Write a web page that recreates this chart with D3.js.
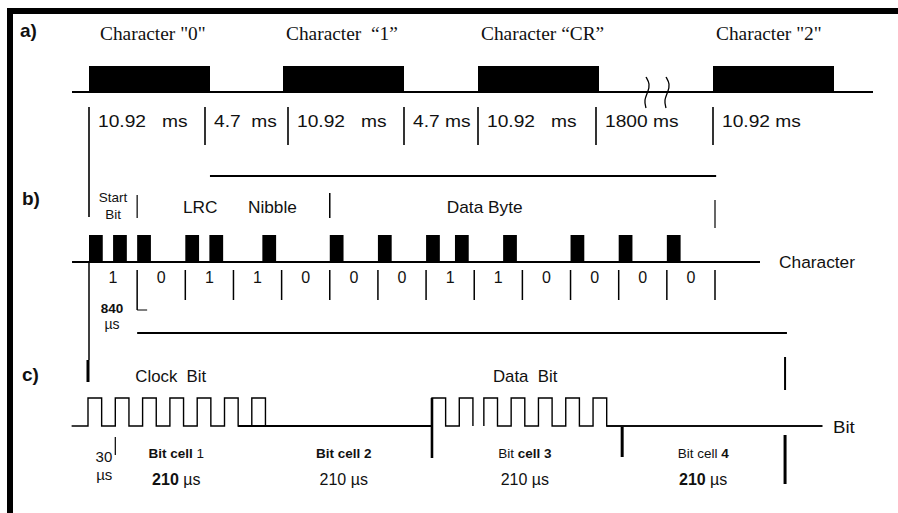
<!DOCTYPE html>
<html>
<head>
<meta charset="utf-8">
<script src="https://cdn.jsdelivr.net/npm/d3@7"></script>
<style>
  html, body { margin: 0; padding: 0; background: #fff; }
  svg { display: block; }
  text { font-family: "Liberation Sans", Arial, sans-serif; fill: #111; white-space: pre; }
</style>
</head>
<body>
<div id="chart"></div>
<script>
// ---- a) characters on the line (layout units, drawing is not to scale)
const charNames = ['Character "0"', 'Character  \u201c1\u201d', 'Character \u201cCR\u201d', 'Character "2"'];
const charStart = [0, 194, 389, 624];
const charLen = 121;
const gapTicks = [0, 116, 199, 315, 389, 507, 624];
const gapLabels = ['10.92   ms', '4.7  ms', '10.92   ms', '4.7 ms', '10.92   ms', '1800 ms', '10.92 ms'];
const breakMarks = [558, 578];

// ---- b) one character, 13 bits of 840 us
const bitUs = 840;
const bits = [1, 0, 1, 1, 0, 0, 0, 1, 1, 0, 0, 0, 0];
const pulsesB = [0, 0.5, 1, 2, 2.5, 3.6, 5, 6, 7, 7.6, 8.6, 10, 11, 12]; // in bit cells
const pulseBUs = 240;
const groupEdges = [1, 5, 13];

// ---- c) bit cells, 30 us clock pulses (us)
const clockGroup1 = [0, 30, 60, 90, 120, 150, 180];
const clockGroup2 = [378, 408];
const clockGroup3 = [435, 465, 495, 525, 555];
const pulseCUs = 15;
const cellSeps = [378, 587, 766];
const cellCenters = [97, 281, 480, 676];

const W = 898, H = 513;
const svg = d3.select('#chart').append('svg').attr('width', W).attr('height', H);

// frame (top and left bars)
svg.append('rect').attr('x', 7).attr('y', 8).attr('width', W - 7).attr('height', 6).attr('fill', '#000');
svg.append('rect').attr('x', 7).attr('y', 8).attr('width', 6).attr('height', H - 8).attr('fill', '#000');

function label(x, y, str, o = {}) {
  return svg.append('text')
    .attr('transform', `translate(${x},${y}) scale(${o.sx || 1},1)`)
    .attr('text-anchor', o.anchor || 'start')
    .style('font-size', (o.size || 15) + 'px')
    .style('font-weight', o.bold ? 'bold' : null)
    .style('font-family', o.serif ? '"Liberation Serif", "Times New Roman", serif' : null)
    .text(str);
}
function vline(x, y1, y2, w) {
  svg.append('line').attr('x1', x).attr('x2', x).attr('y1', y1).attr('y2', y2)
    .attr('stroke', '#000').attr('stroke-width', w || 1.5);
}
function hline(x1, x2, y, w) {
  svg.append('line').attr('x1', x1).attr('x2', x2).attr('y1', y).attr('y2', y)
    .attr('stroke', '#000').attr('stroke-width', w || 2);
}

// panel labels
label(20, 37, 'a)', { size: 19, bold: true });
label(22, 205, 'b)', { size: 19, bold: true });
label(22, 381, 'c)', { size: 19, bold: true });

// ================= a)
const xA = d3.scaleLinear().domain([0, 745]).range([89, 834]);
const yBaseA = 92, yTopA = 66;

hline(xA(-17), xA(784), yBaseA, 2);
svg.selectAll('.charPulse').data(charStart).enter().append('rect')
  .attr('class', 'charPulse')
  .attr('x', d => xA(d))
  .attr('y', yTopA)
  .attr('width', d => xA(d + charLen) - xA(d))
  .attr('height', yBaseA - yTopA)
  .attr('fill', '#000');

charNames.forEach((n, i) => label(xA(charStart[i]) + (i === 0 ? 11 : 3), 40, n, { size: 19, serif: true, sx: 1.02 }));

gapTicks.forEach((t, i) => {
  vline(xA(t), 107, i === 0 ? 217 : 145, 1.6);
  label(xA(t) + 9, 127, gapLabels[i], { size: 16, sx: 1.2 });
});

const squiggle = d3.line().curve(d3.curveBasis);
breakMarks.forEach(b => {
  const x = xA(b);
  svg.append('path')
    .attr('d', squiggle([[x - 1, 77], [x + 3, 84], [x + 1, 92], [x - 3, 100], [x - 1, 108]]))
    .attr('fill', 'none').attr('stroke', '#000').attr('stroke-width', 1.3);
});

// ================= b)
const xB = d3.scaleLinear().domain([0, bits.length * bitUs]).range([89, 715]);
const yBaseB = 262, yTopB = 235;

hline(xB(2110), xB(10940), 176, 2);
hline(xB(-296), xB(11705), yBaseB, 2);
svg.selectAll('.bitPulse').data(pulsesB).enter().append('rect')
  .attr('class', 'bitPulse')
  .attr('x', d => xB(d * bitUs))
  .attr('y', yTopB)
  .attr('width', xB(pulseBUs) - xB(0))
  .attr('height', yBaseB - yTopB)
  .attr('fill', '#000');

label(xB(bitUs / 2), 202, 'Start', { size: 13.5, anchor: 'middle' });
label(xB(bitUs / 2), 219, 'Bit', { size: 13.5, anchor: 'middle' });
label(xB(1.95 * bitUs), 213, 'LRC', { size: 16, sx: 1.08 });
label(xB(3.3 * bitUs), 213, 'Nibble', { size: 16, sx: 1.08 });
label(xB(7.43 * bitUs), 213, 'Data Byte', { size: 16, sx: 1.08 });
label(779, 268, 'Character', { size: 16.5, sx: 1.05 });

vline(xB(groupEdges[0] * bitUs), 195, 218, 1.2);
vline(xB(groupEdges[1] * bitUs), 193, 218, 1.5);
vline(xB(groupEdges[2] * bitUs), 200, 228, 1.2);

bits.forEach((b, i) => {
  label(xB((i + 0.5) * bitUs), 283, String(b), { size: 16, anchor: 'middle' });
  const xs = xB((i + 1) * bitUs);
  vline(xs, 270, i === 0 ? 310 : 300, 1.5);
  if (i === 0) hline(xs, xs + 10, 310, 1);
});

label(xB(bitUs / 2) - 1, 313, '840', { size: 13.5, bold: true, anchor: 'middle' });
label(xB(bitUs / 2) - 1, 329, '\u00b5s', { size: 14, anchor: 'middle' });
hline(xB(bitUs), xB(12175), 333, 2);

// time origin line linking the panels
vline(xB(0), 262, 360, 1.5);
vline(xB(0) - 1, 360, 382, 3);

// ================= c)
const xC = d3.scaleLinear().domain([0, 800]).range([88, 816]);
const yLowC = 426, yHighC = 398;

function wave(startUs, rises, endUs) {
  const pts = [[xC(startUs), yLowC]];
  rises.forEach(r => {
    pts.push([xC(r), yLowC], [xC(r), yHighC], [xC(r + pulseCUs), yHighC], [xC(r + pulseCUs), yLowC]);
  });
  pts.push([xC(endUs), yLowC]);
  return d3.line()(pts);
}
svg.append('path').attr('d', wave(-18, clockGroup1.concat(clockGroup2), 408 + pulseCUs))
  .attr('fill', 'none').attr('stroke', '#000').attr('stroke-width', 1.4);
svg.append('path').attr('d', wave(435, clockGroup3, 807))
  .attr('fill', 'none').attr('stroke', '#000').attr('stroke-width', 1.4);
hline(xC(150 + pulseCUs), xC(378), yLowC, 2);
hline(xC(555 + pulseCUs), xC(807), yLowC, 1.6);

vline(xC(cellSeps[0]), yHighC, 458, 2.6);
vline(xC(cellSeps[1]), 427, 457, 3);
vline(xC(cellSeps[2]), 435, 484, 3);
vline(xC(cellSeps[2]), 357, 390, 2);
vline(xC(30), 437, 455, 1.2);

label(xC(30) - 3, 462, '30', { size: 15, anchor: 'end' });
label(xC(30) - 3, 480, '\u00b5s', { size: 15, anchor: 'end' });
label(xC(52), 382, 'Clock  Bit', { size: 16, sx: 1.05 });
label(xC(445), 382, 'Data  Bit', { size: 16, sx: 1.05 });
label(833, 433, 'Bit', { size: 17, sx: 1.1 });

// cell labels: [text, bold] pieces
const cellTitles = [
  [['Bit cell ', true], ['1', false]],
  [['Bit cell 2', true]],
  [['Bit ', false], ['cell 3', true]],
  [['Bit cell ', false], ['4', true]]
];
const cellTimes = [
  [['210 ', true], ['\u00b5s', false]],
  [['210 \u00b5s', false]],
  [['210 \u00b5s', false]],
  [['210 ', true], ['\u00b5s', false]]
];
function pieces(x, y, parts, size) {
  const t = label(x, y, '', { size: size, anchor: 'middle' });
  parts.forEach(p => t.append('tspan').style('font-weight', p[1] ? 'bold' : 'normal').text(p[0]));
}
cellCenters.forEach((c, i) => {
  pieces(xC(c), 458, cellTitles[i], 13.5);
  pieces(xC(c), 485, cellTimes[i], 16);
});
</script>
</body>
</html>
